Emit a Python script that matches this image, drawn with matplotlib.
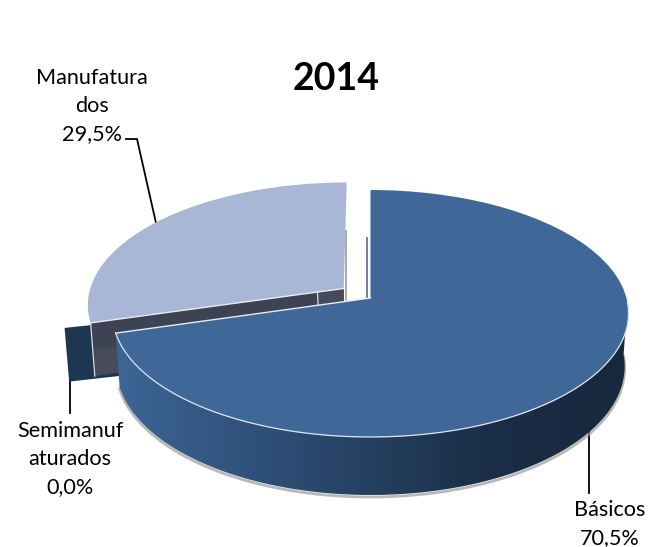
import numpy as np
import matplotlib
matplotlib.use("Agg")
import matplotlib.pyplot as plt
from matplotlib.colors import LinearSegmentedColormap
from matplotlib.patches import Polygon
from matplotlib.transforms import Transform

# shares for 2014, clockwise from the top
categories = ["Básicos", "Semimanuf\naturados", "Manufatura\ndos"]
shares = [70.5, 0.0, 29.5]
title = "2014"

blue = "#3f6899"
light = "#a8b7d5"
cut_dark = "#3e4354"
cut_right = "#464a5a"
sliver_col = "#1f3650"


# tilts the flat pie into the perspective of the 3D chart (result in pixels)
class Tilt(Transform):
    input_dims = 2
    output_dims = 2

    def transform_non_affine(self, xy):
        xy = np.asarray(xy, dtype=float)
        u = xy[:, 0] - 0.048
        v = xy[:, 1] + 0.036
        d = 1 + 0.1255 * v
        return np.column_stack((370.5 + 256 * u / d, (298 - 84.15 * v) / d))


tilt = Tilt()


def drop(xy, v):
    # same points on the lower face of the disc
    out = xy.copy()
    out[:, 0] = 370 + (xy[:, 0] - 370) * 0.985
    out[:, 1] = xy[:, 1] + 52 - 6 * v
    return out


fig = plt.figure(figsize=(6.48, 5.47), dpi=100)
ax = fig.add_axes([0, 0, 1, 1])
plt.rcParams["font.family"] = ["Lato", "DejaVu Sans"]

wedges, _ = ax.pie(shares, startangle=90, counterclock=False,
                   explode=[0.06, 0.15, 0.072], colors=[blue, sliver_col, light])
ax.set_aspect("auto")
for w in wedges:
    w.set_transform(tilt + ax.transData)
wedges[0].set_zorder(6)
wedges[2].set_zorder(3)
wedges[1].set_visible(False)


def radial(w, r):
    a = np.radians(w.theta1)
    cx, cy = w.center
    return np.array([[cx + r * np.cos(a), cy + r * np.sin(a)]])


# leader lines
ax.plot([126, 137, 156], [139, 139, 223], color="black", lw=1.3, zorder=1)
ax.plot([70, 70], [378, 413], color="black", lw=1.3, zorder=1)
ax.plot([589, 589], [430, 493], color="black", lw=1.3, zorder=1)

# the 0% slice only shows as a thin piece of wall
s = wedges[1]
rim = tilt.transform(radial(s, 1.0))
rim[:, 1] -= 6
inner = tilt.transform(radial(s, 0.3))
top = np.vstack((rim, inner))
vv = np.array([-0.28, -0.1])
ax.add_patch(Polygon(np.vstack((top, drop(top, vv)[::-1])), color=sliver_col, lw=0, zorder=1.5))

# cut face of the light slice
m = wedges[2]
r_edge = np.array([[m.center[0] + r * np.cos(np.radians(m.theta2)),
                    m.center[1] + r * np.sin(np.radians(m.theta2))] for r in (1.0, 0.0)])
top = tilt.transform(r_edge)
low = drop(top, r_edge[:, 1] + 0.036)
ax.add_patch(Polygon(np.vstack((top, low[::-1])), color=cut_dark, lw=0, zorder=2))
f = 0.104
split_top = top[1] + (top[0] - top[1]) * f
split_low = low[1] + (low[0] - low[1]) * f
ax.add_patch(Polygon([split_top, top[1], low[1], split_low], color=cut_right, lw=0, zorder=2.1))
mid_a = top[0] + (low[0] - top[0]) * 0.5
mid_b = top[1] + (low[1] - top[1]) * 0.5
ax.add_patch(Polygon([mid_a, mid_b, low[1], low[0]], color="white", alpha=0.05, lw=0, zorder=2.2))
ax.plot([top[0][0], low[0][0]], [top[0][1], low[0][1]], color="#d8dbe2", lw=0.9, zorder=2.3)
ax.plot([split_top[0], split_low[0]], [split_top[1], 306], color="#d8dbe2", lw=0.9, zorder=2.3)
ax.plot(top[:, 0], top[:, 1], color="#e8ebf2", lw=1.0, zorder=3.1)
# thin shadow right of the light slice
ax.plot([346, 346], [231, 300], color="#a9a9a9", lw=1.4, zorder=1)

# wall of the blue slice
b = wedges[0]
ang = np.radians(np.linspace(b.theta1, -2, 160))
rim_uv = np.column_stack((b.center[0] + np.cos(ang), b.center[1] + np.sin(ang)))
rim_top = tilt.transform(rim_uv)
rim_low = drop(rim_top, rim_uv[:, 1] + 0.036)
wall = np.vstack((rim_top, rim_low[::-1]))

shadow = rim_low.copy()
shadow[:, 1] += 2
ax.plot(shadow[:, 0], shadow[:, 1], color="#9a9a9a", lw=2.0, alpha=0.7, zorder=4)

wall_cmap = LinearSegmentedColormap.from_list(
    "wall", [(0, "#3d6596"), (0.28, "#2f5079"), (0.5, "#24405f"), (0.72, "#1a2e47"), (1, "#16283d")])
img = ax.imshow(np.linspace(0, 1, 256).reshape(1, -1), cmap=wall_cmap, aspect="auto",
                extent=(wall[:, 0].min(), wall[:, 0].max(), wall[:, 1].max(), wall[:, 1].min()),
                zorder=5)
clip = Polygon(wall, transform=ax.transData, fc="none", ec="none")
ax.add_patch(clip)
img.set_clip_path(clip)

# white highlights on the blue slice
ax.plot(rim_top[:, 0], rim_top[:, 1], color="#dfe5ee", lw=0.9, zorder=7)
edge_uv = np.array([[b.center[0], b.center[1]], rim_uv[0]])
edge = tilt.transform(edge_uv)
ax.plot(edge[:, 0], edge[:, 1], color="#e8ebf2", lw=1.0, zorder=7)
ax.plot([367, 367], [238, 298], color="#5b6a80", lw=1.2, zorder=2)

ax.set_xlim(0, 648)
ax.set_ylim(547, 0)
ax.axis("off")


def pct(v):
    return f"{v:.1f}%".replace(".", ",")


ax.text(336, 79, title, fontsize=27, fontweight="bold", ha="center", va="center", color="black")
label_pos = [(610, 524), (70, 459), (92, 106)]
for name, val, (x, y) in zip(categories, shares, label_pos):
    ax.text(x, y, name + "\n" + pct(val), fontsize=15.6, ha="center", va="center",
            color="black", linespacing=1.5)

fig.savefig("out.png", dpi=100)
